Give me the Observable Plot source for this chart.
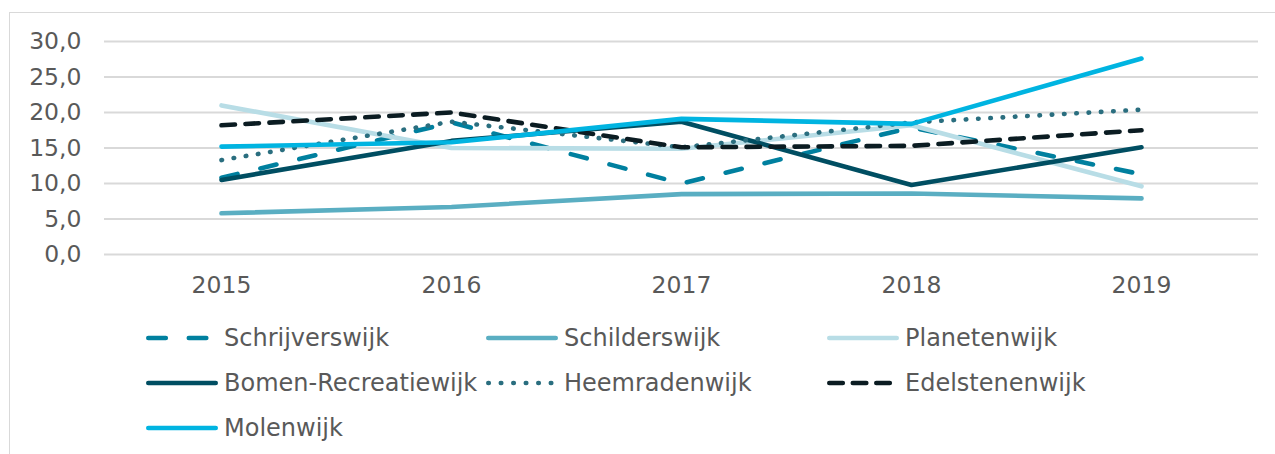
<!DOCTYPE html>
<html><head><meta charset="utf-8">
<script src="https://cdn.jsdelivr.net/npm/d3@7"></script>
<script src="https://cdn.jsdelivr.net/npm/@observablehq/plot@0.6"></script>
<style>
body{margin:0;background:#fff;font-family:Verdana,"DejaVu Sans",sans-serif;}
#wrap{position:relative;width:1275px;height:454px;overflow:hidden;background:#fff;}
#frame{position:absolute;left:9px;top:12px;width:1320px;height:520px;border:1.5px solid #d9d9d9;}
#chart{position:absolute;left:0;top:0;}
.leg{position:absolute;display:flex;align-items:center;font-size:24px;color:#595959;white-space:nowrap;transform:translateY(-50%);}
.leg svg{margin-right:6px;display:block;}
</style></head><body>
<div id="wrap"><div id="frame"></div><div id="chart"></div><div id="legend"></div></div>
<script>
const years = ["2015","2016","2017","2018","2019"];
const seriesNames = ["Schrijverswijk","Schilderswijk","Planetenwijk","Bomen-Recreatiewijk","Heemradenwijk","Edelstenenwijk","Molenwijk"];
const schrijverswijk = [10.8, 18.6, 10.0, 17.9, 11.3];
const schilderswijk  = [5.8, 6.7, 8.5, 8.6, 7.9];
const planetenwijk   = [21.0, 15.0, 14.9, 18.2, 9.6];
const bomenRecreatiewijk = [10.5, 16.0, 18.7, 9.8, 15.1];
const heemradenwijk  = [13.3, 18.7, 15.1, 18.6, 20.4];
const edelstenenwijk = [18.2, 20.0, 15.1, 15.3, 17.5];
const molenwijk      = [15.2, 15.8, 19.1, 18.4, 27.6];
const seriesValues = [schrijverswijk, schilderswijk, planetenwijk, bomenRecreatiewijk, heemradenwijk, edelstenenwijk, molenwijk];
const yTicks = [0, 5, 10, 15, 20, 25, 30];

const colors = ["#00809f","#5aaec2","#b8dde6","#004e62","#2a6e7f","#0b1c22","#00b4e1"];
const dashes = ["16.5,23.5", null, null, null, "0.5,11.8", "13.5,10.5", null];
const legendDashes = ["17.5,23", null, null, null, "0.5,12", "13.5,10", null];

const rows = [];
seriesNames.forEach((name, i) => years.forEach((yr, j) => rows.push({name, year: yr, value: seriesValues[i][j], idx: i})));

const fmt = d => d.toFixed(1).replace(".", ",");

const lineMarks = seriesNames.map((name, i) =>
  Plot.line(rows.filter(r => r.idx === i), {
    x: "year", y: "value", stroke: colors[i], strokeWidth: 4.6,
    strokeDasharray: dashes[i] || undefined, strokeLinecap: "round", strokeLinejoin: "round"
  })
);

const plot = Plot.plot({
  width: 1275, height: 300,
  marginLeft: 104, marginRight: 17, marginTop: 41, marginBottom: 46,
  style: {background: "transparent", fontFamily: "Verdana, 'DejaVu Sans', sans-serif", color: "#595959"},
  x: {type: "point", domain: years, padding: 0.5, label: null},
  y: {domain: [0, 30], label: null},
  marks: [
    Plot.gridY(yTicks, {stroke: "#d9d9d9", strokeOpacity: 1, strokeWidth: 2}),
    Plot.axisY(yTicks, {tickSize: 0, tickPadding: 23, fontSize: 23.5, tickFormat: fmt, fill: "#595959", label: null}),
    Plot.axisX({tickSize: 0, tickPadding: 22, fontSize: 23.5, fill: "#595959", label: null}),
    ...lineMarks
  ]
});
document.getElementById("chart").appendChild(plot);

// legend
const legendCols = [146, 486, 827];
const legendRows = [338, 383, 428];
const legend = d3.select("#legend");
seriesNames.forEach((name, i) => {
  const item = legend.append("div").attr("class", "leg")
    .style("left", legendCols[i % 3] + "px").style("top", legendRows[Math.floor(i / 3)] + "px");
  const svg = item.append("svg").attr("width", 72).attr("height", 12);
  svg.append("line").attr("x1", 2.3).attr("x2", 69.7).attr("y1", 6).attr("y2", 6)
    .attr("stroke", colors[i]).attr("stroke-width", 4.6).attr("stroke-linecap", "round")
    .attr("stroke-dasharray", legendDashes[i]);
  item.append("span").text(name);
});
</script>
</body></html>
